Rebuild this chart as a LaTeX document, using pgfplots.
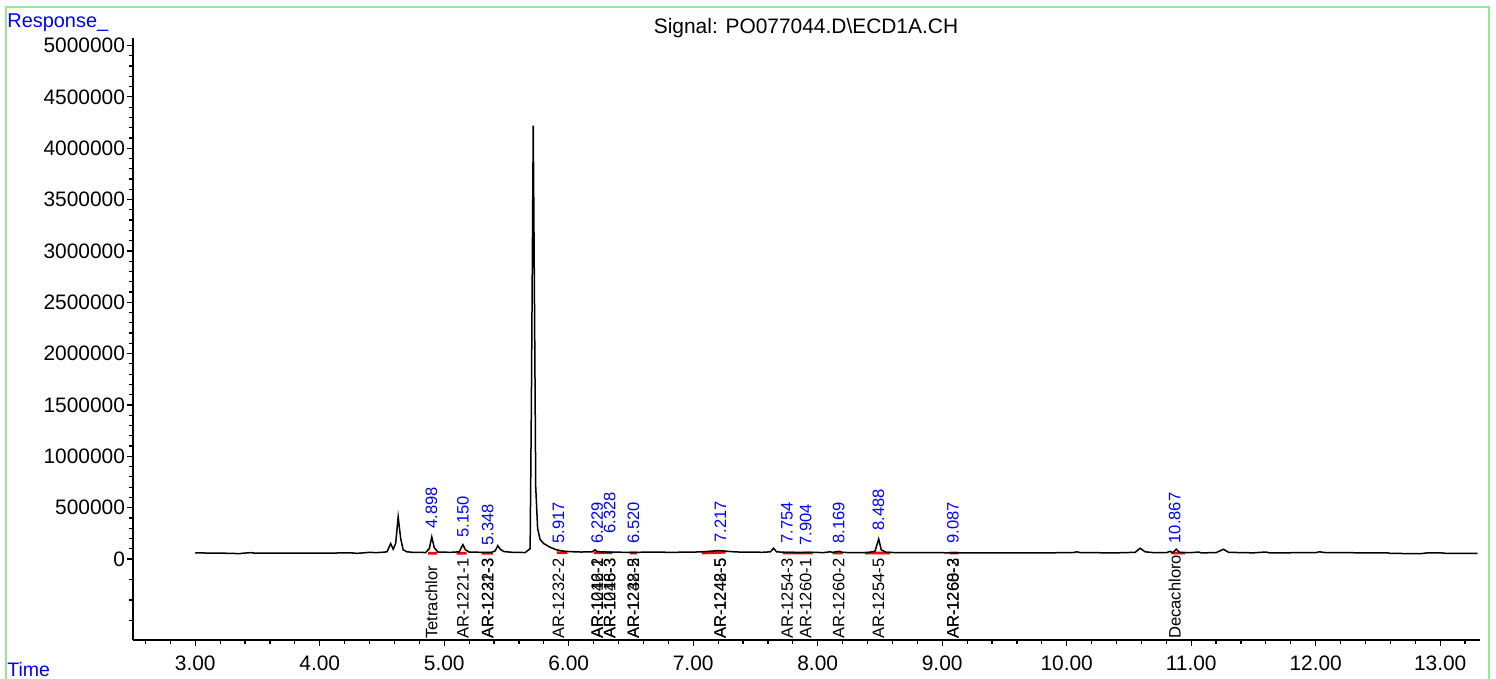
\documentclass[border=0pt]{standalone}
\usepackage{fontspec}
\setmainfont{Liberation Sans}
\usepackage{pgfplots}
\pgfplotsset{compat=1.18}

\definecolor{framegreen}{RGB}{150,232,150}
\definecolor{lblue}{RGB}{0,0,255}

% chromatogram trace, retention time (min) vs response
\pgfplotstableread{
t      r
3.00   60000
3.10   58000
3.20   57000
3.30   55000
3.35   52000
3.40   58000
3.45   62000
3.48   56000
3.55   57000
3.70   58000
3.90   57000
4.10   58000
4.25   60000
4.30   55000
4.35   60000
4.40   65000
4.45   62000
4.50   65000
4.54   70000
4.57   150000
4.59   95000
4.61   150000
4.63   410000
4.65   200000
4.67   90000
4.70   70000
4.75   65000
4.85   63000
4.88   100000
4.90   215000
4.92   110000
4.95   68000
5.05   65000
5.12   70000
5.15   140000
5.17   90000
5.20   68000
5.30   65000
5.38   65000
5.41   80000
5.43   130000
5.45   95000
5.48   72000
5.55   65000
5.65   63000
5.69   100000
5.70   1500000
5.715  4220000
5.725  2500000
5.735  700000
5.75   300000
5.77   190000
5.80   150000
5.85   115000
5.90   90000
5.95   78000
6.00   72000
6.10   68000
6.19   70000
6.21   90000
6.23   72000
6.30   68000
6.40   66000
6.50   65000
6.60   66000
6.70   68000
6.80   65000
6.90   66000
7.00   67000
7.10   72000
7.20   82000
7.25   78000
7.30   72000
7.40   66000
7.50   68000
7.55   65000
7.62   70000
7.645  105000
7.67   70000
7.75   64000
7.85   63000
7.95   64000
8.05   63000
8.10   70000
8.12   64000
8.17   75000
8.20   64000
8.30   62000
8.40   62000
8.46   75000
8.49   195000
8.51   90000
8.55   65000
8.65   62000
8.80   61000
9.00   61000
9.20   60000
9.50   60000
9.80   60000
10.05  62000
10.08  70000
10.11  62000
10.40  60000
10.55  65000
10.59  105000
10.63  70000
10.70  62000
10.80  61000
10.83  75000
10.85  60000
10.88  95000
10.91  62000
11.00  62000
11.06  68000
11.08  60000
11.20  62000
11.26  95000
11.30  65000
11.50  60000
11.60  68000
11.63  60000
12.00  62000
12.03  70000
12.08  62000
12.50  60000
12.58  60000
12.60  54000
12.85  53000
12.90  60000
13.00  60000
13.05  55000
13.30  55000
}\trace

\begin{document}
\begin{tikzpicture}
\path[use as bounding box] (0,0) rectangle (748bp,-339.5bp);
\draw[framegreen, line width=1bp] (3bp,-3.5bp) rectangle (744.5bp,-345bp);

\node[anchor=base west, inner sep=0, text=lblue, font=\fontsize{10}{12}\selectfont]
  at (3.5bp,-13.5bp) {Response\_};
\node[anchor=base west, inner sep=0, text=lblue, font=\fontsize{9.8}{12}\selectfont]
  at (3.5bp,-338bp) {Time};
\node[anchor=base, inner sep=0, font=\fontsize{10.5}{12}\selectfont]
  at (403bp,-16.5bp) {Signal: PO077044.D\textbackslash ECD1A.CH};

\begin{axis}[
    at={(66.5bp,-320bp)}, anchor=south west,
    scale only axis, width=673.5bp, height=301bp,
    xmin=2.5, xmax=13.32,
    ymin=-788700, ymax=5073000,
    scaled y ticks=false, scaled x ticks=false,
    axis lines*=left,
    axis line style={line width=0.75bp},
    tick align=outside,
    major tick length=3bp, minor tick length=2bp,
    tick style={black, line width=0.6bp},
    xtick={3,4,5,6,7,8,9,10,11,12,13},
    xticklabels={3.00,4.00,5.00,6.00,7.00,8.00,9.00,10.00,11.00,12.00,13.00},
    minor xtick={2.6,2.8,3.2,3.4,3.6,3.8,4.2,4.4,4.6,4.8,5.2,5.4,5.6,5.8,6.2,6.4,6.6,6.8,7.2,7.4,7.6,7.8,8.2,8.4,8.6,8.8,9.2,9.4,9.6,9.8,10.2,10.4,10.6,10.8,11.2,11.4,11.6,11.8,12.2,12.4,12.6,12.8,13.2},
    ytick={0,500000,1000000,1500000,2000000,2500000,3000000,3500000,4000000,4500000,5000000},
    yticklabels={0,500000,1000000,1500000,2000000,2500000,3000000,3500000,4000000,4500000,5000000},
    minor ytick={-600000,-400000,-200000,
      100000,200000,300000,400000,600000,700000,800000,900000,
      1100000,1200000,1300000,1400000,1600000,1700000,1800000,1900000,
      2100000,2200000,2300000,2400000,2600000,2700000,2800000,2900000,
      3100000,3200000,3300000,3400000,3600000,3700000,3800000,3900000,
      4100000,4200000,4300000,4400000,4600000,4700000,4800000,4900000},
    /pgf/number format/assume math mode=true,
    ticklabel style={font=\fontsize{10.5}{12}\selectfont},
    yticklabel style={inner sep=0.8bp},
    xticklabel style={yshift=-1.5bp},
    clip=false,
]
% integration baselines
\addplot[red, line width=1.4bp, unbounded coords=jump] coordinates {
  (4.87,57000) (4.94,57000) (4.95,nan)
  (5.10,57000) (5.18,57000) (5.19,nan)
  (5.30,57000) (5.39,57000) (5.40,nan)
  (5.905,60000) (5.99,60000) (6.0,nan)
  (6.20,60000) (6.35,60000) (6.36,nan)
  (6.49,58000) (6.55,58000) (6.56,nan)
  (7.07,58000) (7.25,66000) (7.25,78000) (7.26,nan)
  (7.72,58000) (7.96,58000) (7.97,nan)
  (8.12,58000) (8.20,58000) (8.21,nan)
  (8.38,58000) (8.58,58000) (8.59,nan)
  (9.06,58000) (9.13,58000) (9.14,nan)
  (10.84,58000) (10.95,58000)
};
\addplot[black, line width=0.75bp] table[x=t, y=r] {\trace};

% retention time labels
\begin{scope}[every node/.style={anchor=west, rotate=90, inner sep=0, text=lblue,
    font=\fontsize{8.3}{9}\selectfont}]
\node at (axis cs:4.898,295000) {4.898};
\node at (axis cs:5.150,207000) {5.150};
\node at (axis cs:5.348,129000) {5.348};
\node at (axis cs:5.917,149000) {5.917};
\node at (axis cs:6.229,149000) {6.229};
\node at (axis cs:6.328,246000) {6.328};
\node at (axis cs:6.520,149000) {6.520};
\node at (axis cs:7.217,158000) {7.217};
\node at (axis cs:7.754,149000) {7.754};
\node at (axis cs:7.904,129000) {7.904};
\node at (axis cs:8.169,149000) {8.169};
\node at (axis cs:8.488,275000) {8.488};
\node at (axis cs:9.087,149000) {9.087};
\node at (axis cs:10.867,149000) {10.867};
\end{scope}

% compound names
\begin{scope}[every node/.style={anchor=west, rotate=90, inner sep=0, text=black,
    font=\fontsize{8.3}{9}\selectfont}]
\node at (axis cs:4.898,-780000) {Tetrachlor};
\node at (axis cs:5.150,-780000) {AR-1221-1};
\node at (axis cs:5.348,-780000) {AR-1221-3};
\node at (axis cs:5.348,-780000) {AR-1232-3};
\node at (axis cs:5.917,-780000) {AR-1232-2};
\node at (axis cs:6.229,-780000) {AR-1016-2};
\node at (axis cs:6.229,-780000) {AR-1242-1};
\node at (axis cs:6.328,-780000) {AR-1016-3};
\node at (axis cs:6.328,-780000) {AR-1248-3};
\node at (axis cs:6.520,-780000) {AR-1232-5};
\node at (axis cs:6.520,-780000) {AR-1248-2};
\node at (axis cs:7.217,-780000) {AR-1242-5};
\node at (axis cs:7.217,-780000) {AR-1248-5};
\node at (axis cs:7.754,-780000) {AR-1254-3};
\node at (axis cs:7.904,-780000) {AR-1260-1};
\node at (axis cs:8.169,-780000) {AR-1260-2};
\node at (axis cs:8.488,-780000) {AR-1254-5};
\node at (axis cs:9.087,-780000) {AR-1260-3};
\node at (axis cs:9.087,-780000) {AR-1268-2};
\node at (axis cs:10.867,-780000) {Decachloro};
\end{scope}
\end{axis}
\end{tikzpicture}
\end{document}
